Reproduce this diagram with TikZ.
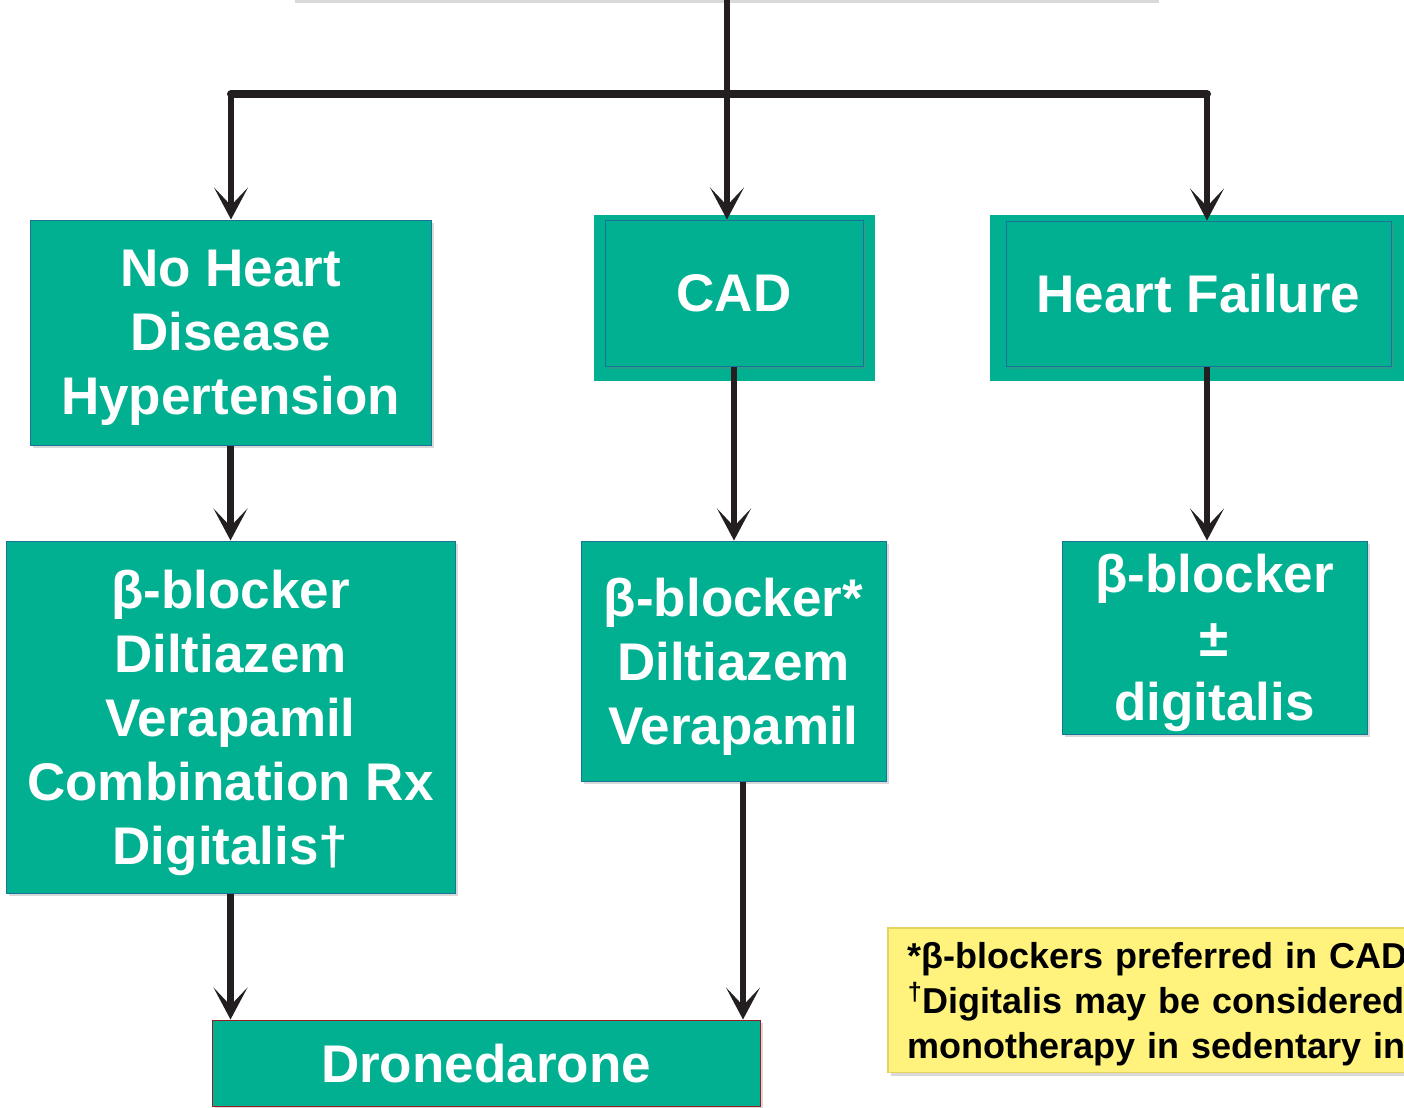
\documentclass[tikz,border=0pt]{standalone}
\usepackage{fontspec}
\setmainfont{Liberation Sans}
\usetikzlibrary{arrows.meta,shadows}
\definecolor{boxgreen}{RGB}{0,176,144}
\definecolor{boxedge}{RGB}{25,115,150}
\definecolor{dronedge}{RGB}{150,30,35}
\definecolor{noteyellow}{RGB}{255,243,125}
\definecolor{notedge}{RGB}{228,212,95}
\definecolor{arrowblack}{RGB}{35,31,32}

\begin{document}
\begin{tikzpicture}[x=0.5pt,y=-0.5pt,
    softshadow/.style={drop shadow={shadow xshift=1.5pt,shadow yshift=-1.5pt,opacity=0.3}},
    greenbox/.style={fill=boxgreen,draw=boxedge,line width=0.5pt,text=white,inner sep=0pt,
        align=center,font=\fontsize{26.5}{32}\selectfont\bfseries,text depth=-3pt,softshadow},
    notebox/.style={fill=noteyellow,draw=notedge,line width=0.8pt,text=black,inner xsep=10pt,
        align=left,font=\fontsize{18}{22.5}\selectfont\bfseries,softshadow},
    arr/.style={draw=arrowblack,line width=3.2pt,-{Stealth[length=16pt,width=17pt,inset=9pt]}},
    bar/.style={draw=arrowblack,line width=4pt,line cap=round}]
    \useasboundingbox (0,0) rectangle (1404,1108);
    \node[fill=white,minimum width=432pt,minimum height=40pt,inner sep=0pt,softshadow] (src) at (724,-40) {};
    \fill[boxgreen] (594,215) rectangle (875,381);
    \fill[boxgreen] (990,215) rectangle (1410,381);
    \node[greenbox,minimum width=200.5pt,minimum height=112.5pt] (nohd) at (230.5,332.5) {No Heart\\Disease\\Hypertension};
    \node[greenbox,minimum width=129pt,minimum height=73pt] (cad) at (734,293) {CAD};
    \node[greenbox,minimum width=192.5pt,minimum height=72.5pt] (hf) at (1198.5,293.5) {Heart Failure};
    \node[greenbox,minimum width=224.5pt,minimum height=176pt] (nohdrx) at (230.5,717) {β-blocker\\Diltiazem\\Verapamil\\Combination Rx\\Digitalis†};
    \node[greenbox,minimum width=152.5pt,minimum height=120pt] (cadrx) at (733.5,661) {β-blocker*\\Diltiazem\\Verapamil};
    \node[greenbox,minimum width=152.5pt,minimum height=96.5pt] (hfrx) at (1214.5,637.5) {β-blocker\\±\\digitalis};
    \node[greenbox,draw=dronedge,minimum width=274pt,minimum height=43pt] (drone) at (486,1063) {Dronedarone};
    \node[notebox,anchor=north west,minimum width=310pt,minimum height=71.5pt,text width=290pt] (note) at (887,927)
        {\rule{0pt}{17pt}*β-blockers preferred in CAD\\\textsuperscript{†}Digitalis may be considered\\monotherapy in sedentary in};
    \coordinate (barL) at (231,94);
    \coordinate (barM) at (727,94);
    \coordinate (barR) at (1207,94);
    \coordinate (cadrxout) at ([xshift=4.75pt]cadrx.south);
    \draw[bar] (barL) -- (barR);
    \draw[arr] (src.south -| barM) -- (barM |- cad.north);
    \draw[arr] (barL) -- (barL |- nohd.north);
    \draw[arr] (barR) -- (barR |- hf.north);
    \draw[arr] (nohd.south) -- (nohdrx.north);
    \draw[arr] (cad.south) -- (cad.south |- cadrx.north);
    \draw[arr] (barR |- hf.south) -- (barR |- hfrx.north);
    \draw[arr] (nohdrx.south) -- (nohdrx.south |- drone.north);
    \draw[arr] (cadrxout) -- (cadrxout |- drone.north);
\end{tikzpicture}
\end{document}
